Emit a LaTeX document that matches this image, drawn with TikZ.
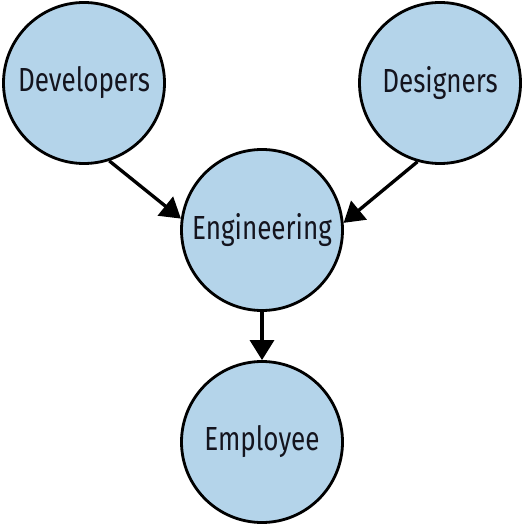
\documentclass[tikz,border=0pt]{standalone}
\usepackage{fontspec}
\setmainfont[FakeStretch=0.78]{Fira Sans}
\usetikzlibrary{arrows.meta,positioning}
\definecolor{roleblue}{RGB}{180,212,234}
\definecolor{roletext}{RGB}{20,20,30}
\tikzset{every picture/.style={line width=0.75pt}}
\tikzset{
  role/.style={circle, draw=black, line width=1.6pt, fill=roleblue,
    minimum size=3.22cm, inner sep=0pt, text=roletext,
    font=\fontsize{19}{22}\selectfont},
  flow/.style={-{Triangle[length=0.4cm,width=0.48cm]}, line width=1.9pt}
}

\begin{document}
\begin{tikzpicture}
    \useasboundingbox (0,0) rectangle (10.5,-10.52);
    \node[role] (dev) at (1.68,-1.66) {Developers};
    \node[role] (des) at (8.8,-1.66) {Designers};
    \node[role] (eng) at (5.24,-4.6) {Engineering};
    \node[role] (emp) at (5.24,-8.84) {Employee};
    \draw[flow] (dev.-72) -- (eng.172);
    \draw[flow] (des.-106) -- (eng.5);
    \draw[flow] (eng.south) -- (emp.north);
\end{tikzpicture}
\end{document}
